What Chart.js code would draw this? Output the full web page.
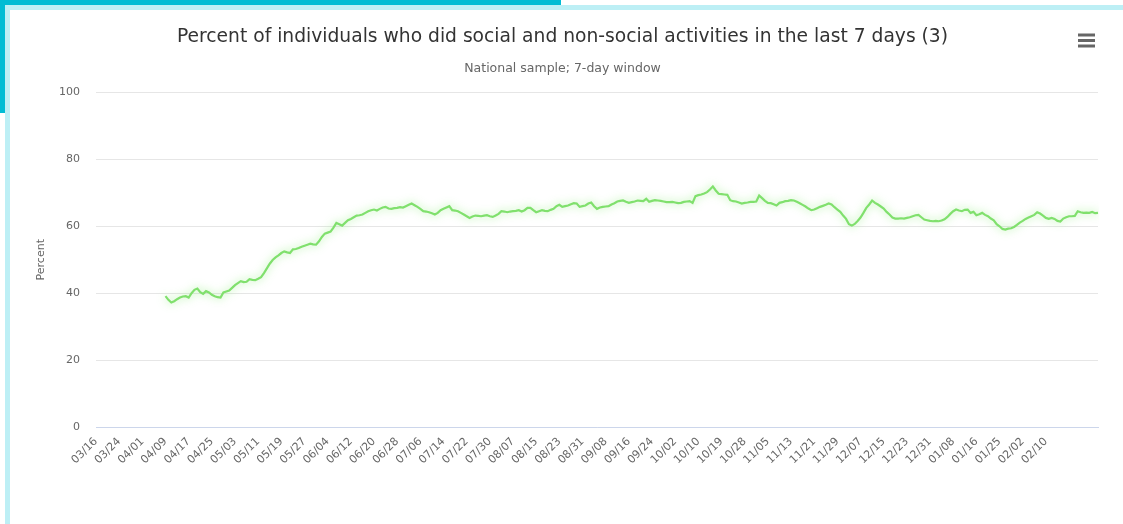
<!DOCTYPE html>
<html>
<head>
<meta charset="utf-8">
<title>Social and non-social activities</title>
<script src="https://cdn.jsdelivr.net/npm/chart.js@4.4.1/dist/chart.umd.min.js"></script>
<style>
  html, body { margin: 0; padding: 0; background: #fff; overflow: hidden; }
  #wrap { position: relative; width: 1123px; height: 524px; }
  .bar { position: absolute; pointer-events: none; }
</style>
</head>
<body>
<div id="wrap">
  <canvas id="chart"></canvas>
  <div class="bar" style="left:0;top:0;width:561px;height:5px;background:#00bcd4"></div>
  <div class="bar" style="left:5px;top:5px;width:1118px;height:5px;background:#bdeff5"></div>
  <div class="bar" style="left:0;top:0;width:5px;height:113px;background:#00bcd4"></div>
  <div class="bar" style="left:5px;top:5px;width:5px;height:519px;background:#bdeff5"></div>
</div>
<script>
// days shown on the category axis (a few days have no survey data)
const firstDay = "2020-03-16";
const lastDay = "2021-02-28";
const missingDays = ["10/15", "10/24", "01/21"];
const firstDataDay = "04/09";
const lastTickDay = "02/10";
const tickEvery = 8;

// percent, one value per day from 04/09 onwards
const april = [39.1, 38.0, 37.2, 37.6, 38.2, 38.7, 39.0, 39.1, 38.7, 40.0, 41.0, 41.4, 40.3, 39.8, 40.6, 40.2, 39.5, 39.1, 38.8, 38.7, 40.2, 40.5];
const may = [40.8, 41.6, 42.4, 43.0, 43.6, 43.3, 43.4, 44.2, 44.0, 43.9, 44.3, 44.8, 46.0, 47.4, 48.8, 49.9, 50.7, 51.3, 52.0, 52.5, 52.2, 52.0, 53.1, 53.2, 53.5, 53.9, 54.2, 54.5, 54.8, 54.6, 54.5];
const june = [55.5, 56.8, 57.8, 58.1, 58.4, 59.6, 61.0, 60.6, 60.2, 61.0, 61.8, 62.2, 62.7, 63.2, 63.3, 63.5, 64.0, 64.5, 64.8, 65.0, 64.7, 65.2, 65.6, 65.8, 65.3, 65.2, 65.4, 65.5, 65.7, 65.6];
const july = [66.0, 66.4, 66.8, 66.3, 65.8, 65.2, 64.5, 64.4, 64.2, 63.9, 63.5, 64.0, 64.8, 65.2, 65.6, 66.0, 64.8, 64.7, 64.5, 64.0, 63.5, 63.0, 62.5, 62.9, 63.2, 63.1, 63.0, 63.2, 63.3, 63.0, 62.8];
const august = [63.2, 63.7, 64.5, 64.4, 64.2, 64.4, 64.5, 64.6, 64.8, 64.4, 64.8, 65.5, 65.5, 64.8, 64.2, 64.5, 64.8, 64.6, 64.5, 64.9, 65.2, 66.0, 66.4, 65.8, 66.0, 66.2, 66.6, 66.9, 66.8, 65.8, 66.0];
const september = [66.2, 66.8, 67.1, 66.0, 65.2, 65.6, 65.8, 65.9, 66.0, 66.5, 66.9, 67.4, 67.6, 67.7, 67.3, 67.0, 67.2, 67.4, 67.7, 67.6, 67.5, 68.2, 67.3, 67.6, 67.8, 67.7, 67.6, 67.4, 67.2, 67.2];
const october = [67.3, 67.1, 66.9, 67.0, 67.3, 67.4, 67.5, 67.0, 69.0, 69.3, 69.5, 69.8, 70.2, 71.0, 71.9, 70.7, 69.7, 69.6, 69.5, 69.4, 67.8, 67.5, 67.4, 67.1, 66.8, 67.0, 67.1, 67.3, 67.3];
const november = [67.4, 69.2, 68.4, 67.6, 67.0, 66.9, 66.6, 66.2, 67.0, 67.2, 67.5, 67.6, 67.8, 67.7, 67.3, 66.9, 66.4, 65.9, 65.3, 64.8, 65.0, 65.4, 65.8, 66.1, 66.4, 66.8, 66.5, 65.7, 65.0, 64.3];
const december = [63.2, 62.2, 60.6, 60.2, 60.7, 61.6, 62.6, 64.0, 65.5, 66.5, 67.7, 67.0, 66.5, 65.9, 65.3, 64.3, 63.5, 62.6, 62.3, 62.3, 62.4, 62.3, 62.5, 62.7, 63.0, 63.3, 63.4, 62.7, 62.0, 61.8, 61.6];
const january = [61.5, 61.6, 61.5, 61.7, 62.1, 62.8, 63.7, 64.5, 65.0, 64.7, 64.5, 64.9, 65.0, 64.0, 64.3, 63.3, 63.6, 64.0, 63.4, 63.0, 62.3, 61.8, 60.6, 60.0, 59.2, 59.0, 59.3, 59.4, 59.8, 60.4];
const february = [61.1, 61.6, 62.2, 62.6, 63.0, 63.4, 64.2, 63.8, 63.2, 62.5, 62.2, 62.5, 62.2, 61.6, 61.4, 62.3, 62.7, 63.0, 63.0, 63.1, 64.5, 64.2, 64.0, 64.1, 64.0, 64.3, 63.9, 64.0];

const yTicks = [0, 20, 40, 60, 80, 100];

// build the day labels
const dates = [];
for (let d = new Date(firstDay + "T00:00:00Z"); d <= new Date(lastDay + "T00:00:00Z"); d.setUTCDate(d.getUTCDate() + 1)) {
  const label = String(d.getUTCMonth() + 1).padStart(2, "0") + "/" + String(d.getUTCDate()).padStart(2, "0");
  if (!missingDays.includes(label)) dates.push(label);
}
const lastTickIndex = dates.indexOf(lastTickDay);

const measured = [].concat(april, may, june, july, august, september, october, november, december, january, february);
const percent = new Array(dates.indexOf(firstDataDay)).fill(null).concat(measured);

const font = "DejaVu Sans";
const titleText = "Percent of individuals who did social and non-social activities in the last 7 days (3)";
const subtitleText = "National sample; 7-day window";

// soft glow under the line
const glow = {
  id: "glow",
  beforeDatasetsDraw(chart) {
    const ctx = chart.ctx;
    ctx.save();
    ctx.shadowColor = "rgba(144, 237, 125, 0.8)";
    ctx.shadowBlur = 8;
  },
  afterDatasetsDraw(chart) {
    chart.ctx.restore();
  }
};

// centre title and subtitle on the whole page, not just the padded area
const centreTitles = {
  id: "centreTitles",
  afterLayout(chart) {
    chart.boxes.forEach((box) => {
      if (box.options && (box.options.text === titleText || box.options.text === subtitleText)) {
        const shift = (chart.width - box.left - box.right) / 2 + 1;
        box.left += shift;
        box.right += shift;
      }
    });
  }
};

// menu button in the top right corner
const menuIcon = {
  id: "menuIcon",
  afterDraw(chart) {
    const ctx = chart.ctx;
    ctx.save();
    ctx.strokeStyle = "#666666";
    ctx.lineWidth = 3;
    [35, 40.5, 46].forEach((y) => {
      ctx.beginPath();
      ctx.moveTo(1078, y);
      ctx.lineTo(1095, y);
      ctx.stroke();
    });
    ctx.restore();
  }
};

new Chart(document.getElementById("chart"), {
  type: "line",
  plugins: [glow, centreTitles, menuIcon],
  data: {
    labels: dates,
    datasets: [{
      label: "Percent",
      data: percent,
      borderColor: "#80e06d",
      borderWidth: 2.2,
      pointRadius: 0,
      tension: 0,
      fill: false
    }]
  },
  options: {
    responsive: true,
    maintainAspectRatio: false,
    animation: false,
    layout: { padding: { left: 10, right: 25, top: 0, bottom: 0 } },
    plugins: {
      legend: { display: false },
      tooltip: { enabled: false },
      title: {
        display: true,
        text: titleText,
        color: "#333333",
        font: { family: font, size: 18.7, weight: "normal" },
        padding: { top: 26, bottom: 13 }
      },
      subtitle: {
        display: true,
        text: subtitleText,
        color: "#666666",
        font: { family: font, size: 12.5, weight: "normal" },
        padding: { top: 0, bottom: 16 }
      }
    },
    scales: {
      x: {
        grid: { display: false, drawTicks: false },
        border: { display: true, color: "#ccd6eb" },
        ticks: {
          autoSkip: false,
          minRotation: 45,
          maxRotation: 45,
          padding: 8,
          color: "#666666",
          font: { family: font, size: 11 },
          callback: (value, index) => (index % tickEvery === 0 && index <= lastTickIndex ? dates[index] : null)
        },
        afterFit: (scale) => { scale.height = 97; }
      },
      y: {
        min: 0,
        max: 100,
        afterBuildTicks: (scale) => { scale.ticks = yTicks.map((v) => ({ value: v })); },
        grid: { color: "#e6e6e6", drawTicks: false },
        border: { display: false },
        ticks: {
          padding: 16,
          color: "#666666",
          font: { family: font, size: 11 }
        },
        title: {
          display: true,
          text: "Percent",
          color: "#666666",
          font: { family: font, size: 11 },
          padding: { top: 25, bottom: 0 }
        },
        afterFit: (scale) => { scale.width = 86; }
      }
    }
  }
});
</script>
</body>
</html>
